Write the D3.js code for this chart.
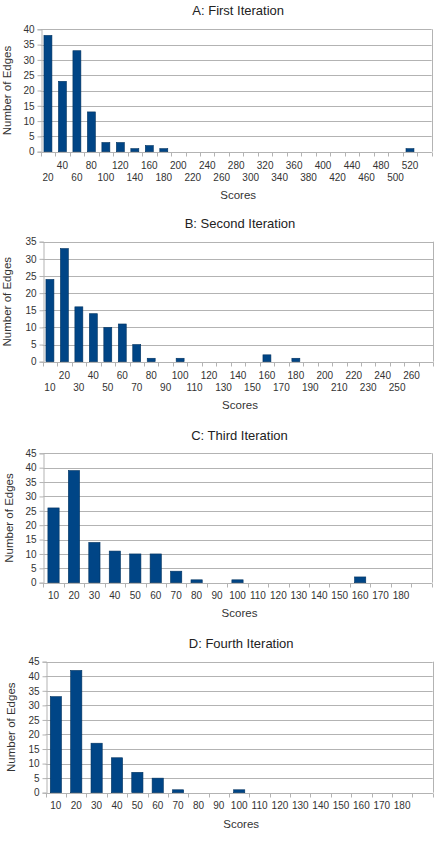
<!DOCTYPE html>
<html>
<head>
<meta charset="utf-8">
<script src="https://cdn.jsdelivr.net/npm/d3@7"></script>
<style>
  body { margin: 0; background: #fff; }
  svg { display: block; font-family: "Liberation Sans", Arial, sans-serif; }
</style>
</head>
<body>
<script>
// scores (category slots) and counts for each iteration
var scoresA = ["20","40","60","80","100","120","140","160","180","200","220","240","260","280","300","320","340","360","380","400","420","440","460","480","500","520",""];
var countsA = [38,23,33,13,3,3,1,2,1,0,0,0,0,0,0,0,0,0,0,0,0,0,0,0,0,1,0];

var scoresB = ["10","20","30","40","50","60","70","80","90","100","110","120","130","140","150","160","170","180","190","200","210","220","230","240","250","260",""];
var countsB = [24,33,16,14,10,11,5,1,0,1,0,0,0,0,0,2,0,1,0,0,0,0,0,0,0,0,0];

var scoresC = ["10","20","30","40","50","60","70","80","90","100","110","120","130","140","150","160","170","180",""];
var countsC = [26,39,14,11,10,10,4,1,0,1,0,0,0,0,0,2,0,0,0];

var scoresD = ["10","20","30","40","50","60","70","80","90","100","110","120","130","140","150","160","170","180",""];
var countsD = [33,42,17,12,7,5,1,0,0,1,0,0,0,0,0,0,0,0,0];

var titles = ["A: First Iteration", "B: Second Iteration", "C: Third Iteration", "D: Fourth Iteration"];
var yMaxes = [40, 35, 45, 45];

var width = 439, height = 856;

var svg = d3.select("body").append("svg")
    .attr("width", width)
    .attr("height", height);

// plot rectangles for the four panels
var panels = [
  { scores: scoresA, counts: countsA, left: 40.7, right: 431.7, top: 29.3, bottom: 151.7, twoRows: true,  titleY: 15, scoresY: 199, ylabX: 11 },
  { scores: scoresB, counts: countsB, left: 42.7, right: 433.3, top: 241.7, bottom: 361.7, twoRows: true, titleY: 228, scoresY: 409, ylabX: 11 },
  { scores: scoresC, counts: countsC, left: 43.3, right: 431.7, top: 453.3, bottom: 582.7, twoRows: false, titleY: 440, scoresY: 617, ylabX: 13 },
  { scores: scoresD, counts: countsD, left: 45.7, right: 432.7, top: 661.7, bottom: 792.7, twoRows: false, titleY: 648, scoresY: 828, ylabX: 14.5 }
];

panels.forEach(function(p, i) {
  var g = svg.append("g");

  var x = d3.scaleBand()
      .domain(d3.range(p.scores.length))
      .range([p.left, p.right])
      .padding(0);

  var y = d3.scaleLinear()
      .domain([0, yMaxes[i]])
      .range([p.bottom, p.top]);

  var yTicks = d3.range(0, yMaxes[i] + 1, 5);

  // grid lines
  g.selectAll(".grid")
    .data(yTicks)
    .enter()
    .append("line")
    .attr("x1", p.left)
    .attr("x2", p.right)
    .attr("y1", function(d) { return Math.round(y(d)) + 0.5; })
    .attr("y2", function(d) { return Math.round(y(d)) + 0.5; })
    .style("stroke", "#b3b3b3")
    .style("stroke-width", 1);

  // right border
  g.append("line")
    .attr("x1", Math.round(p.right) + 0.5).attr("x2", Math.round(p.right) + 0.5)
    .attr("y1", y(yMaxes[i])).attr("y2", p.bottom)
    .style("stroke", "#b3b3b3");

  // left axis
  var yAxis = d3.axisLeft(y)
      .tickValues(yTicks)
      .tickSize(4)
      .tickPadding(3);
  var ya = g.append("g")
    .attr("transform", "translate(" + (Math.round(p.left) + 0.5) + ",0)")
    .call(yAxis);
  ya.select(".domain").style("stroke", "#b3b3b3");
  ya.selectAll(".tick line").style("stroke", "#b3b3b3");
  ya.selectAll(".tick text")
    .style("font-size", "10px")
    .style("fill", "#333")
    .style("font-family", "Liberation Sans, Arial, sans-serif");

  // bars, centred in their slot
  var bw = x.bandwidth() * 0.55;
  var barData = p.counts
    .map(function(v, j) { return { j: j, v: v }; })
    .filter(function(d) { return d.v > 0; });

  g.selectAll("rect.bar")
    .data(barData)
    .enter()
    .append("rect")
    .attr("class", "bar")
    .attr("x", function(d) { return x(d.j) + (x.bandwidth() - bw) / 2; })
    .attr("width", bw)
    .attr("y", function(d) { return y(d.v); })
    .attr("height", function(d) { return p.bottom - y(d.v); })
    .style("fill", "#004586")
    .style("stroke", "#00325f")
    .style("stroke-width", 0.6);

  // bottom axis line and ticks at slot boundaries
  var by = Math.round(p.bottom) + 0.5;
  g.append("line")
    .attr("x1", p.left).attr("x2", p.right)
    .attr("y1", by).attr("y2", by)
    .style("stroke", "#b3b3b3");

  var bounds = d3.range(p.scores.length + 1);
  g.selectAll(".xtick")
    .data(bounds)
    .enter()
    .append("line")
    .attr("x1", function(d) { return Math.round(p.left + d * x.step()) + 0.5; })
    .attr("x2", function(d) { return Math.round(p.left + d * x.step()) + 0.5; })
    .attr("y1", by)
    .attr("y2", by + 4)
    .style("stroke", "#b3b3b3");

  // category labels (staggered on two rows for the crowded panels)
  g.selectAll(".xlab")
    .data(p.scores)
    .enter()
    .append("text")
    .attr("x", function(d, j) { return x(j) + x.bandwidth() / 2; })
    .attr("y", function(d, j) {
      if (p.twoRows) return j % 2 === 1 ? p.bottom + 17 : p.bottom + 29.5;
      return p.bottom + 16.5;
    })
    .attr("text-anchor", "middle")
    .style("font-size", "10px")
    .style("fill", "#333")
    .text(function(d) { return d; });

  // title
  g.append("text")
    .attr("x", (p.left + p.right) / 2 + 2)
    .attr("y", p.titleY)
    .attr("text-anchor", "middle")
    .style("font-size", "13px")
    .style("fill", "#222")
    .text(titles[i]);

  // axis titles
  g.append("text")
    .attr("x", (p.left + p.right) / 2 + 2)
    .attr("y", p.scoresY)
    .attr("text-anchor", "middle")
    .style("font-size", "11.5px")
    .style("fill", "#333")
    .text("Scores");

  g.append("text")
    .attr("transform", "translate(" + p.ylabX + "," + ((p.top + p.bottom) / 2) + ") rotate(-90)")
    .attr("text-anchor", "middle")
    .style("font-size", "11.5px")
    .style("fill", "#333")
    .text("Number of Edges");
});
</script>
</body>
</html>
